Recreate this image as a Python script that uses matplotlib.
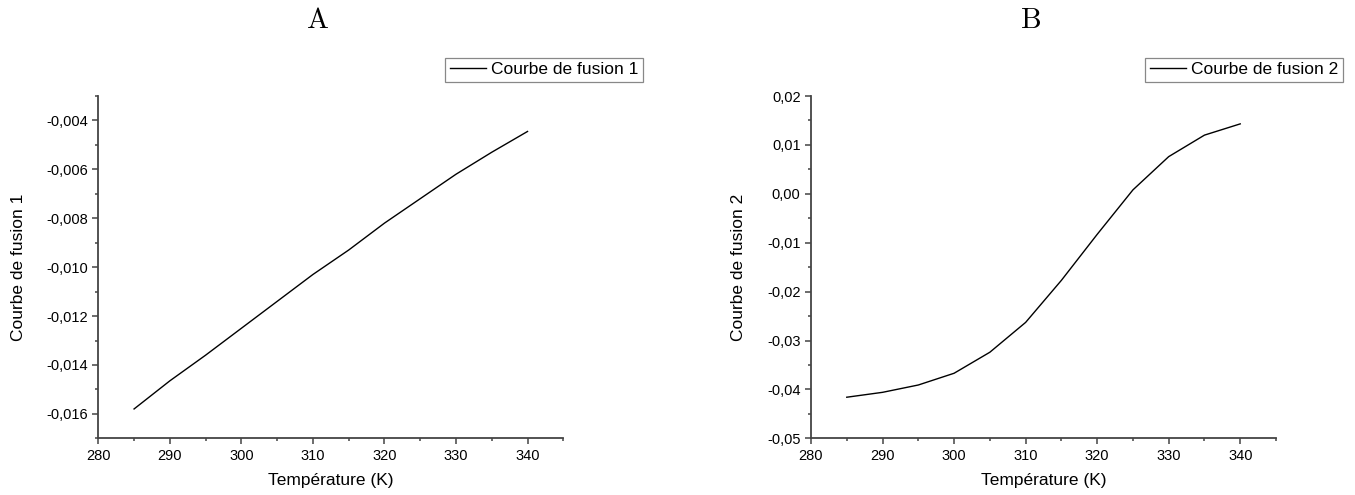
import numpy as np
import matplotlib
matplotlib.use('Agg')
import matplotlib.pyplot as plt
from matplotlib.ticker import MultipleLocator, FuncFormatter

plt.rcParams['font.family'] = ['Liberation Sans', 'DejaVu Sans']
plt.rcParams['mathtext.fontset'] = 'cm'

# data
temp = [285, 290, 295, 300, 305, 310, 315, 320, 325, 330, 335, 340]
fusion1 = [-0.0158, -0.01465, -0.0136, -0.0125, -0.0114, -0.0103,
           -0.0093, -0.0082, -0.0072, -0.0062, -0.0053, -0.00445]
fusion2 = [-0.0416, -0.0406, -0.0391, -0.0367, -0.0324, -0.0263,
           -0.0177, -0.0083, 0.0008, 0.0076, 0.0120, 0.0143]

W, H = 1355, 495
fig = plt.figure(figsize=(W / 100, H / 100), dpi=100)

ax1 = fig.add_axes([98.3 / W, 1 - 438.3 / H, 465 / W, 342.3 / H])
ax2 = fig.add_axes([811 / W, 1 - 438.3 / H, 465 / W, 342.3 / H])

spine_col = '#444444'

def style(ax, ylim, ymaj, ymin, ydec, ylabel, lab_x):
    ax.set_xlim(280, 345)
    ax.set_ylim(*ylim)
    ax.xaxis.set_major_locator(MultipleLocator(10))
    ax.xaxis.set_minor_locator(MultipleLocator(5))
    ax.yaxis.set_major_locator(MultipleLocator(ymaj))
    ax.yaxis.set_minor_locator(MultipleLocator(ymin))
    ax.yaxis.set_major_formatter(FuncFormatter(
        lambda v, p: f'{v:.{ydec}f}'.replace('.', ',').replace('-0,' + '0' * ydec, '0,' + '0' * ydec)))
    for s in ['top', 'right']:
        ax.spines[s].set_visible(False)
    for s in ['left', 'bottom']:
        ax.spines[s].set_color(spine_col)
        ax.spines[s].set_linewidth(1.3)
    ax.tick_params(which='major', direction='out', length=4.5, width=1.1,
                   color=spine_col, labelsize=10.5, pad=3)
    ax.tick_params(which='minor', direction='out', length=2.5, width=1.1,
                   color=spine_col)
    ax.set_xlabel('Température (K)', fontsize=12.5)
    ax.xaxis.set_label_coords(0.5, -0.1)
    ax.set_ylabel(ylabel, fontsize=12.5)
    ax.yaxis.set_label_coords(lab_x, 0.5)

ax1.plot(temp, fusion1, color='black', lw=1.0, label='Courbe de fusion 1')
ax2.plot(temp, fusion2, color='black', lw=1.0, label='Courbe de fusion 2')

style(ax1, (-0.017, -0.003), 0.002, 0.001, 3, 'Courbe de fusion 1', -0.155)
style(ax2, (-0.05, 0.02), 0.01, 0.005, 2, 'Courbe de fusion 2', -0.14)

for ax, xr in [(ax1, 643), (ax2, 1343)]:
    leg = ax.legend(loc='upper right', bbox_to_anchor=(xr / W, 1 - 58 / H),
                    bbox_transform=fig.transFigure, fontsize=12.5,
                    fancybox=False, framealpha=1, edgecolor='#888888',
                    borderpad=0.25, handlelength=2.1, handletextpad=0.3,
                    borderaxespad=0)
    leg.get_frame().set_linewidth(0.9)

fig.text(318 / W, 1 - 20 / H, r'$\mathrm{A}$', ha='center', va='center', fontsize=21)
fig.text(1030 / W, 1 - 20 / H, r'$\mathrm{B}$', ha='center', va='center', fontsize=21)

fig.savefig('out.png', dpi=100)
